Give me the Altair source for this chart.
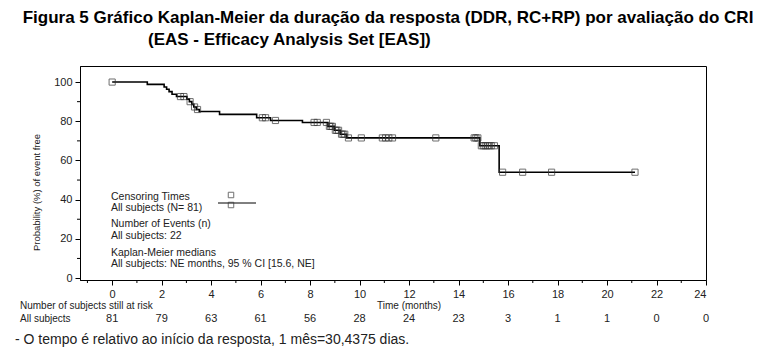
import altair as alt
import pandas as pd

# ---- data ----
event_times = [0, 1.42, 2.10, 2.20, 2.30, 2.42, 2.60, 3.02, 3.12, 3.22, 3.30, 3.40, 3.52,
               4.34, 5.84, 6.40, 7.69, 8.72, 8.98, 9.22, 9.48, 14.86, 15.64, 21.13]
event_surv = [100, 98.8, 97.5, 96.3, 95.1, 93.8, 92.6, 91.3, 90.0, 88.6, 87.3, 86.0, 85.0,
              83.5, 81.8, 80.4, 79.4, 77.4, 75.4, 73.4, 71.5, 67.5, 54.0, 54.0]

cens_times = [0, 2.76, 2.90, 3.15, 3.33, 3.45, 6.07, 6.20, 6.60, 8.16, 8.29, 8.66,
              8.78, 8.84, 8.90, 9.02, 9.08, 9.15, 9.27, 9.33, 9.40, 9.55, 10.07,
              10.92, 11.05, 11.18, 11.33, 13.08, 14.63, 14.70, 14.78, 14.92, 15.00,
              15.08, 15.16, 15.24, 15.32, 15.45, 15.78, 16.59, 17.76, 21.13]
cens_surv = [100, 92.6, 92.6, 90.0, 87.3, 86.0, 81.8, 81.8, 80.4, 79.4, 79.4, 79.4,
             77.4, 77.4, 77.4, 75.4, 75.4, 75.4, 73.4, 73.4, 73.4, 71.5, 71.5,
             71.5, 71.5, 71.5, 71.5, 71.5, 71.5, 71.5, 71.5, 67.5, 67.5,
             67.5, 67.5, 67.5, 67.5, 67.5, 54.0, 54.0, 54.0, 54.0]

risk_times = [0, 2, 4, 6, 8, 10, 12, 14, 16, 18, 20, 22, 24]
risk_counts = [81, 79, 63, 61, 56, 28, 24, 23, 3, 1, 1, 0, 0]

x_ticks = [0, 2, 4, 6, 8, 10, 12, 14, 16, 18, 20, 22, 24]
x_minor = [-1, 1, 3, 5, 7, 9, 11, 13, 15, 17, 19, 21, 23]
y_ticks = [0, 20, 40, 60, 80, 100]
y_minor = [10, 30, 50, 70, 90]

title1 = "Figura 5 Gráfico Kaplan-Meier da duração da resposta (DDR, RC+RP) por avaliação do CRI"
title2 = "(EAS - Efficacy Analysis Set [EAS])"
legend_lines = ["Censoring Times", "All subjects (N= 81)", "Number of Events (n)",
                "All subjects: 22", "Kaplan-Meier medians",
                "All subjects: NE months, 95 % CI [15.6, NE]"]
footnote = "- O tempo é relativo ao início da resposta, 1 mês=30,4375 dias."

FONT = "Liberation Sans"
W, H = 626, 214

xs = alt.Scale(domain=[-1.3, 24], nice=False, zero=False)
ys = alt.Scale(domain=[-1, 108.2], nice=False, zero=False)

km = pd.DataFrame({"t": event_times, "s": event_surv})
cens = pd.DataFrame({"t": cens_times, "s": cens_surv})
risk = pd.DataFrame({"t": risk_times, "n": [str(v) for v in risk_counts]})
xminor = pd.DataFrame({"t": x_minor})
yminor = pd.DataFrame({"v": y_minor})

line = alt.Chart(km).mark_line(interpolate="step-after", color="black", strokeWidth=1.6).encode(
    x=alt.X("t:Q", scale=xs, axis=alt.Axis(values=x_ticks, title=None, tickSize=5,
                                           labelPadding=3, labelFontSize=11)),
    y=alt.Y("s:Q", scale=ys, axis=alt.Axis(values=y_ticks, title="Probability (%) of event free",
                                           tickSize=5, labelPadding=3, labelFontSize=11,
                                           titleFontSize=9.5, titleFontWeight="normal",
                                           titlePadding=12, titleY=126)),
)

pts = alt.Chart(cens).mark_point(shape="square", filled=False, size=38, color="#333",
                                 strokeWidth=1).encode(
    x=alt.X("t:Q", scale=xs), y=alt.Y("s:Q", scale=ys))

xmin_r = alt.Chart(xminor).mark_rule(color="black").encode(
    x=alt.X("t:Q", scale=xs), y=alt.value(H), y2=alt.value(H + 3))
ymin_r = alt.Chart(yminor).mark_rule(color="black").encode(
    y=alt.Y("v:Q", scale=ys), x=alt.value(-3), x2=alt.value(0))

def txt(s, x, y, size=10, align="left", weight="normal", color="#222"):
    return alt.Chart(pd.DataFrame({"l": [s]})).mark_text(
        align=align, baseline="middle", fontSize=size, font=FONT,
        fontWeight=weight, color=color).encode(
        text="l:N", x=alt.value(x), y=alt.value(y))

def sq(x, y):
    return alt.Chart(pd.DataFrame({"a": [0]})).mark_point(
        shape="square", filled=False, size=30, color="#333", strokeWidth=1).encode(
        x=alt.value(x), y=alt.value(y))

layers = [line, pts, xmin_r, ymin_r]
layers.append(txt(title1, 308, -48, size=17, align="center", weight="bold", color="black"))
layers.append(txt(title2, 68, -26, size=17, weight="bold", color="black"))

leg_y = [131, 142, 158, 170, 187, 198]
for s, yy in zip(legend_lines, leg_y):
    layers.append(txt(s, 31, yy, size=10.5))

# legend symbol
layers.append(alt.Chart(pd.DataFrame({"a": [0]})).mark_rule(color="black", strokeWidth=1).encode(
    x=alt.value(138), x2=alt.value(176), y=alt.value(137)))
layers.append(sq(151, 129))
layers.append(sq(151, 139))

# at-risk table
layers.append(txt("Number of subjects still at risk", -60, 240))
layers.append(alt.Chart(pd.DataFrame({"t": [12], "l": ["Time (months)"]})).mark_text(
    align="center", baseline="middle", fontSize=10, font=FONT, color="#222").encode(
    x=alt.X("t:Q", scale=xs), y=alt.value(240), text="l:N"))
layers.append(txt("All subjects", -60, 253))
layers.append(alt.Chart(risk).mark_text(align="center", baseline="middle", fontSize=11,
                                        font=FONT, color="#222").encode(
    x=alt.X("t:Q", scale=xs), y=alt.value(253), text="n:N"))
layers.append(txt(footnote, -65, 274, size=14))

chart = alt.layer(*layers).properties(
    width=W, height=H,
    autosize=alt.AutoSizeParams(type="none"),
    padding={"left": 72, "top": 58, "right": 50, "bottom": 70},
).configure_view(stroke="black", strokeWidth=1).configure_axis(
    labelFont=FONT, titleFont=FONT, labelColor="#222", titleColor="#222",
    domainColor="black", tickColor="black", grid=False
)

chart.save("out.html", embed_options={"renderer": "svg", "actions": False})
